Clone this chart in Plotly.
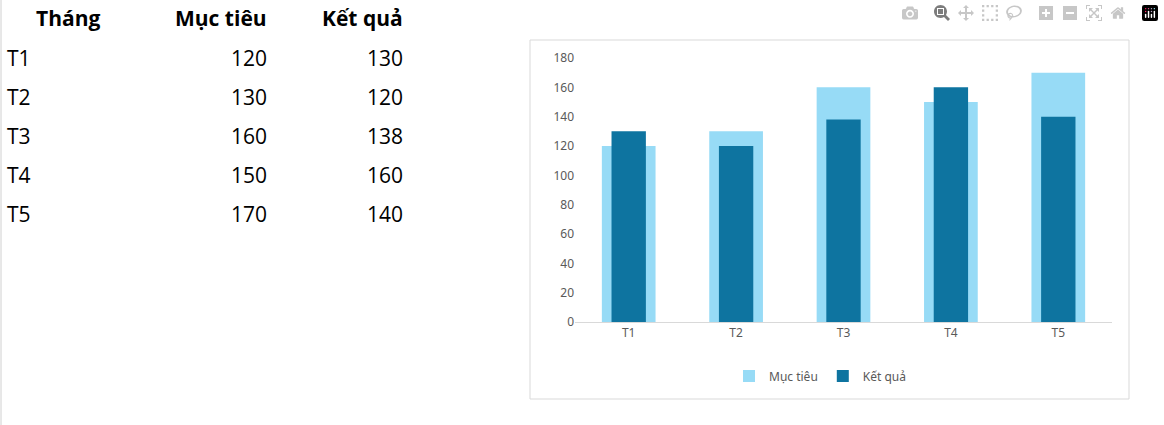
import plotly.graph_objects as go

# Bảng dữ liệu
months = ["T1", "T2", "T3", "T4", "T5"]
target = [120, 130, 160, 150, 170]
result = [130, 120, 138, 160, 140]

W, H = 1164, 425

def px(x):
    return x / W

def py(y):
    return 1 - y / H

fig = go.Figure()
fig.add_trace(go.Bar(x=months, y=target, name="Mục tiêu", width=0.5,
                     marker_color="#97dbf6", marker_line_width=0))
fig.add_trace(go.Bar(x=months, y=result, name="Kết quả", width=0.32,
                     marker_color="#0e74a0", marker_line_width=0))

# bảng bên trái, dạng văn bản
annotations = []
tfont = dict(family="Open Sans", size=21, color="black")
annotations.append(dict(text="<b>Tháng</b>", x=px(68), y=py(18), xanchor="center", font=tfont))
annotations.append(dict(text="<b>Mục tiêu</b>", x=px(269), y=py(18), xanchor="right", font=tfont))
annotations.append(dict(text="<b>Kết quả</b>", x=px(405), y=py(18), xanchor="right", font=tfont))
for i, m in enumerate(months):
    yy = py(58 + i * 39)
    annotations.append(dict(text=m, x=px(5), y=yy, xanchor="left", font=tfont))
    annotations.append(dict(text=str(target[i]), x=px(269), y=yy, xanchor="right", font=tfont))
    annotations.append(dict(text=str(result[i]), x=px(405), y=yy, xanchor="right", font=tfont))
for a in annotations:
    a.update(xref="paper", yref="paper", yanchor="middle", showarrow=False)

fig.update_layout(
    width=W, height=H,
    margin=dict(l=0, r=0, t=0, b=0, autoexpand=False),
    paper_bgcolor="white", plot_bgcolor="white",
    barmode="overlay",
    font=dict(family="Noto Sans", size=12, color="#595959"),
    annotations=annotations,
    xaxis=dict(domain=[px(575), px(1112)], showline=True, linecolor="#d9d9d9",
               ticks="", tickfont=dict(size=12, color="#595959"), automargin=False),
    yaxis=dict(domain=[py(322), py(58)], range=[0, 180], dtick=20, automargin=False,
               showgrid=False, zeroline=False, tickfont=dict(size=12, color="#595959")),
    legend=dict(orientation="h", x=px(820), y=py(376), xanchor="center", yanchor="middle",
                font=dict(size=12, color="#595959"), traceorder="normal"),
    shapes=[
        dict(type="rect", xref="paper", yref="paper", x0=px(530), x1=px(1129),
             y0=py(399), y1=py(40), line=dict(color="#d9d9d9", width=1), layer="below"),
        dict(type="line", xref="paper", yref="paper", x0=px(1), x1=px(1),
             y0=0, y1=1, line=dict(color="#d0d0d0", width=1)),
    ],
)

fig.write_html("out.html", post_script="document.body.style.margin='0';")
